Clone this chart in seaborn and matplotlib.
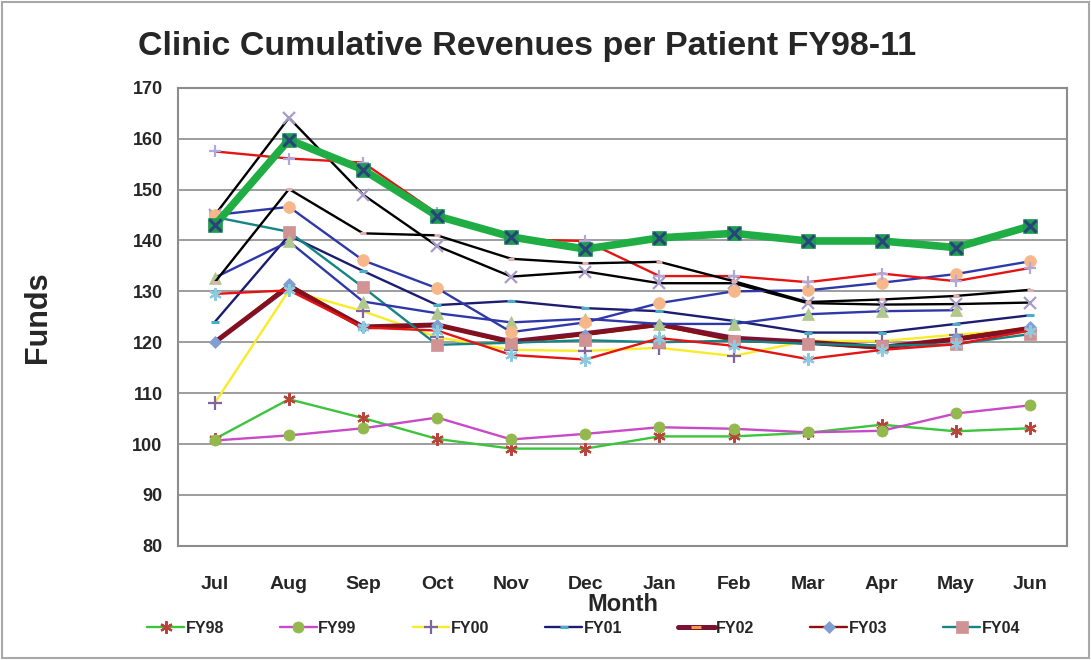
import numpy as np
import pandas as pd
import matplotlib
matplotlib.use("Agg")
import matplotlib.pyplot as plt
import seaborn as sns
from matplotlib.patches import Rectangle

sns.set_style("white")
plt.rcParams['font.family'] = ['Liberation Sans', 'DejaVu Sans']

months = ['Jul', 'Aug', 'Sep', 'Oct', 'Nov', 'Dec', 'Jan', 'Feb', 'Mar', 'Apr', 'May', 'Jun']

fy98 = [101.0, 108.8, 105.1, 101.0, 99.1, 99.1, 101.5, 101.5, 102.2, 103.8, 102.5, 103.1]
fy99 = [100.7, 101.7, 103.1, 105.2, 100.9, 102.0, 103.3, 103.0, 102.3, 102.6, 106.0, 107.6]
fy00 = [108.1, 130.2, 126.1, 121.0, 118.5, 118.3, 118.9, 117.3, 120.3, 120.2, 121.5, 122.5]
fy01 = [124.0, 141.0, 134.0, 127.3, 128.1, 126.7, 126.1, 124.2, 121.9, 121.9, 123.6, 125.3]
fy02 = [120.0, 131.0, 123.0, 123.4, 120.1, 121.7, 123.5, 120.8, 120.0, 119.0, 120.6, 122.6]
fy03 = [120.0, 131.4, 123.0, 123.4, 119.8, 121.5, 123.3, 120.3, 119.8, 118.8, 120.8, 123.0]
fy04 = [144.6, 141.7, 130.8, 119.5, 119.9, 120.4, 120.0, 120.3, 119.7, 119.3, 119.6, 121.6]
fy05 = [132.7, 139.8, 128.0, 125.7, 123.9, 124.6, 123.6, 123.6, 125.5, 126.1, 126.3, np.nan]
fy06 = [145.0, 164.1, 149.0, 138.9, 132.9, 133.9, 131.6, 131.6, 127.7, 127.4, 127.5, 127.8]
fy07 = [129.5, 130.2, 122.9, 122.3, 117.5, 116.6, 120.8, 119.3, 116.7, 118.5, 119.6, 122.3]
fy08 = [145.0, 146.6, 136.1, 130.6, 122.0, 123.9, 127.7, 130.0, 130.2, 131.7, 133.4, 135.9]
fy09 = [157.5, 156.1, 155.3, 145.3, 140.2, 139.9, 133.0, 133.0, 131.8, 133.5, 132.0, 134.6]
fy10 = [131.8, 150.1, 141.4, 141.0, 136.4, 135.5, 135.8, 132.0, 127.9, 128.4, 129.1, 130.3]
fy11 = [143.0, 159.8, 153.9, 144.8, 140.7, 138.3, 140.5, 141.4, 139.9, 139.9, 138.6, 142.8]

series = {'FY98': fy98, 'FY99': fy99, 'FY00': fy00, 'FY01': fy01, 'FY02': fy02,
          'FY03': fy03, 'FY04': fy04, 'FY05': fy05, 'FY06': fy06, 'FY07': fy07,
          'FY08': fy08, 'FY09': fy09, 'FY10': fy10, 'FY11': fy11}

ast = (6, 2, 0)
# line colour, line width, marker, marker colour, marker size
styles = {
    'FY98': ('#3cc43c', 1.7, ast, '#b8443c', 9),
    'FY99': ('#c84ac8', 1.7, 'o', '#92b84e', 8),
    'FY00': ('#f8ec2a', 1.7, '+', '#8064a2', 10),
    'FY01': ('#1c1c70', 1.7, '_', '#4bacc6', 6),
    'FY02': ('#7a1234', 3.6, '_', '#f79646', 7),
    'FY03': ('#8a1010', 1.7, 'D', '#7f9fd2', 6.5),
    'FY04': ('#148484', 1.7, 's', '#d09292', 8),
    'FY05': ('#2e38a8', 1.7, '^', '#b0c88e', 8),
    'FY06': ('#000000', 1.7, 'x', '#a89cc6', 9),
    'FY07': ('#e41414', 1.7, ast, '#8ccae0', 9),
    'FY08': ('#2e38a8', 1.7, 'o', '#f6b88a', 8.5),
    'FY09': ('#e41414', 1.7, '+', '#b0a8d8', 9),
    'FY10': ('#000000', 1.7, '_', '#e0b0b0', 4),
    'FY11': ('#20ae44', 5.5, 's', '#1f9a50', 10),
}

df = pd.DataFrame([(fy, i, v) for fy, vals in series.items() for i, v in enumerate(vals)],
                  columns=['year', 'pos', 'funds'])

fig = plt.figure(figsize=(10.91, 6.6), dpi=100)
ax = fig.add_axes([0.163, 0.173, 0.815, 0.694])

for fy in series:
    col, lw, mk, mc, ms = styles[fy]
    sub = df[df['year'] == fy].dropna()
    filled = mk in ('o', 'D', 's', '^')
    sns.lineplot(data=sub, x='pos', y='funds', ax=ax, color=col, linewidth=lw,
                 marker=mk, markersize=ms, markerfacecolor=mc,
                 markeredgecolor=mc, markeredgewidth=(0.5 if filled else 2.2 if mk == '_' else 1.6),
                 label=fy, sort=False, estimator=None)
    if fy == 'FY11':
        sns.lineplot(data=sub, x='pos', y='funds', ax=ax, linewidth=0, marker='x',
                     markersize=9, markeredgewidth=2.2, markeredgecolor='#27457a',
                     color='#27457a', legend=False, sort=False, estimator=None)

ax.set_xlim(-0.5, 11.5)
ax.set_ylim(80, 170)
ax.set_yticks(range(80, 171, 10))
ax.set_xticks(range(12))
ax.set_xticklabels(months)
ax.set_xticks(np.arange(-0.5, 12, 1), minor=True)
ax.tick_params(axis='x', which='major', length=0, pad=22, labelsize=14)
ax.tick_params(axis='x', which='minor', length=5, width=1, color='#808080', direction='out')
ax.tick_params(axis='y', length=5, width=1, color='#808080', direction='out', pad=6, labelsize=13)
for lab in ax.get_xticklabels() + ax.get_yticklabels():
    lab.set_fontweight('bold')
ax.grid(axis='y', color='#8c8c8c', linewidth=1.2)
ax.set_axisbelow(True)
for sp in ax.spines.values():
    sp.set_color('#8c8c8c')
    sp.set_linewidth(1.5)

ax.set_xlabel('Month', fontsize=17, fontweight='bold', labelpad=0)
ax.set_ylabel('')
fig.text(0.035, 0.52, 'Funds', rotation=90, fontsize=22, fontweight='bold', va='center', ha='center')
fig.text(0.483, 0.93, 'Clinic Cumulative Revenues per Patient FY98-11', fontsize=24.5,
         fontweight='bold', ha='center', va='center')

handles, labels = ax.get_legend_handles_labels()
ax.legend_.remove()
fig.legend(handles[:7], labels[:7], ncol=7, loc='center', bbox_to_anchor=(0.535, 0.048),
           frameon=False, prop={'weight': 'bold', 'size': 11.5},
           handlelength=2.3, columnspacing=3.5, handletextpad=0.1)

fig.patches.append(Rectangle((0.002, 0.003), 0.996, 0.994, transform=fig.transFigure,
                             fill=False, edgecolor='#a8a8a8', linewidth=1.5))

fig.savefig('out.png', dpi=100)
